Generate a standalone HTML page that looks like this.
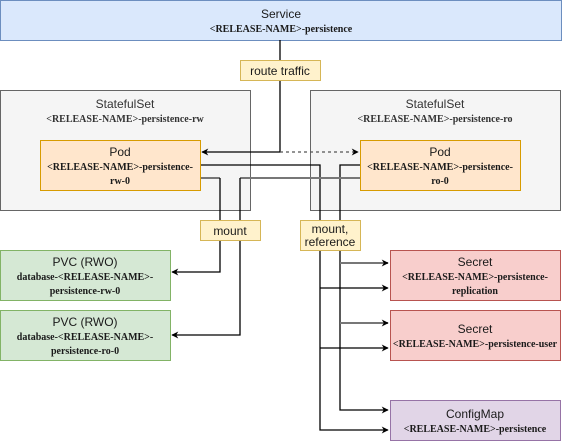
<!DOCTYPE html>
<html><head><meta charset="utf-8"><style>
html,body{margin:0;padding:0;background:#fff;}
svg{display:block;}
.t{font-family:"Liberation Sans",sans-serif;font-size:12px;fill:#1a1a1a;text-anchor:middle;}
.s{font-family:"Liberation Serif",serif;font-size:10px;font-weight:bold;fill:#1a1a1a;text-anchor:middle;}
.g{fill:#333;}
</style></head><body>
<svg width="562" height="442" viewBox="0 0 562 442" xmlns="http://www.w3.org/2000/svg">
<defs>
<marker id="a" viewBox="0 0 10 10" refX="9" refY="5" markerWidth="7" markerHeight="7" orient="auto" markerUnits="userSpaceOnUse"><path d="M0,0 L10,5 L0,10 L3,5 Z" fill="#000"/></marker>
</defs>
<rect x="0.5" y="0.5" width="561" height="40" fill="#dae8fc" stroke="#6c8ebf"/>
<text class="t" x="281" y="18">Service</text>
<text class="s" x="281" y="32">&lt;RELEASE-NAME&gt;-persistence</text>
<rect x="0.5" y="90.5" width="250" height="120" fill="#f5f5f5" stroke="#666"/>
<text class="t g" x="125" y="108">StatefulSet</text>
<text class="s g" x="125" y="122">&lt;RELEASE-NAME&gt;-persistence-rw</text>
<rect x="310.5" y="90.5" width="250" height="120" fill="#f5f5f5" stroke="#666"/>
<text class="t g" x="435" y="108">StatefulSet</text>
<text class="s g" x="435" y="122">&lt;RELEASE-NAME&gt;-persistence-ro</text>
<g fill="none" stroke-width="1.3">
<path d="M280,40 V152 H202" stroke="#000" marker-end="url(#a)"/>
<path d="M280,152 H358" stroke="#555" stroke-dasharray="3,3" marker-end="url(#a)"/>
<path d="M200,165 H320 V430 H388" stroke="#000" marker-end="url(#a)"/>
<path d="M320,288 H388" stroke="#000" marker-end="url(#a)"/>
<path d="M320,348 H388" stroke="#000" marker-end="url(#a)"/>
<path d="M360,165 H340 V410 H388" stroke="#000" marker-end="url(#a)"/>
<path d="M340,263 H388" stroke="#777" stroke-width="2" marker-end="url(#a)"/>
<path d="M340,323 H388" stroke="#777" stroke-width="2" marker-end="url(#a)"/>
<path d="M200,178 H220" stroke="#777" stroke-width="2"/>
<path d="M220,178 V272 H172" stroke="#000" marker-end="url(#a)"/>
<path d="M360,178 H240" stroke="#777" stroke-width="2"/>
<path d="M240,178 V335 H172" stroke="#000" marker-end="url(#a)"/>
</g>
<rect x="40.5" y="140.5" width="160" height="50" fill="#ffe6cc" stroke="#d79b00"/>
<text class="t" x="120" y="156">Pod</text>
<text class="s" x="120" y="170">&lt;RELEASE-NAME&gt;-persistence-</text>
<text class="s" x="120" y="184">rw-0</text>
<rect x="360.5" y="140.5" width="160" height="50" fill="#ffe6cc" stroke="#d79b00"/>
<text class="t" x="440" y="156">Pod</text>
<text class="s" x="440" y="170">&lt;RELEASE-NAME&gt;-persistence-</text>
<text class="s" x="440" y="184">ro-0</text>
<rect x="240.5" y="60.5" width="80" height="20" fill="#fff2cc" stroke="#d6b656"/>
<text class="t" x="280" y="75">route traffic</text>
<rect x="200.5" y="220.5" width="60" height="20" fill="#fff2cc" stroke="#d6b656"/>
<text class="t" x="230" y="235">mount</text>
<rect x="300.5" y="220.5" width="60" height="30" fill="#fff2cc" stroke="#d6b656"/>
<text class="t" x="330" y="233">mount,</text>
<text class="t" x="330" y="246">reference</text>
<rect x="0.5" y="250.5" width="170" height="50" fill="#d5e8d4" stroke="#82b366"/>
<text class="t" x="85" y="266">PVC (RWO)</text>
<text class="s" x="85" y="280">database-&lt;RELEASE-NAME&gt;-</text>
<text class="s" x="85" y="294">persistence-rw-0</text>
<rect x="0.5" y="310.5" width="170" height="50" fill="#d5e8d4" stroke="#82b366"/>
<text class="t" x="85" y="326">PVC (RWO)</text>
<text class="s" x="85" y="340">database-&lt;RELEASE-NAME&gt;-</text>
<text class="s" x="85" y="354">persistence-ro-0</text>
<rect x="390.5" y="250.5" width="170" height="50" fill="#f8cecc" stroke="#b85450"/>
<text class="t" x="475" y="266">Secret</text>
<text class="s" x="475" y="280">&lt;RELEASE-NAME&gt;-persistence-</text>
<text class="s" x="475" y="294">replication</text>
<rect x="390.5" y="310.5" width="170" height="50" fill="#f8cecc" stroke="#b85450"/>
<text class="t" x="475" y="333">Secret</text>
<text class="s" x="475" y="347">&lt;RELEASE-NAME&gt;-persistence-user</text>
<rect x="390.5" y="400.5" width="170" height="40" fill="#e1d5e7" stroke="#9673a6"/>
<text class="t" x="475" y="418">ConfigMap</text>
<text class="s" x="475" y="432">&lt;RELEASE-NAME&gt;-persistence</text>
</svg>
</body></html>
